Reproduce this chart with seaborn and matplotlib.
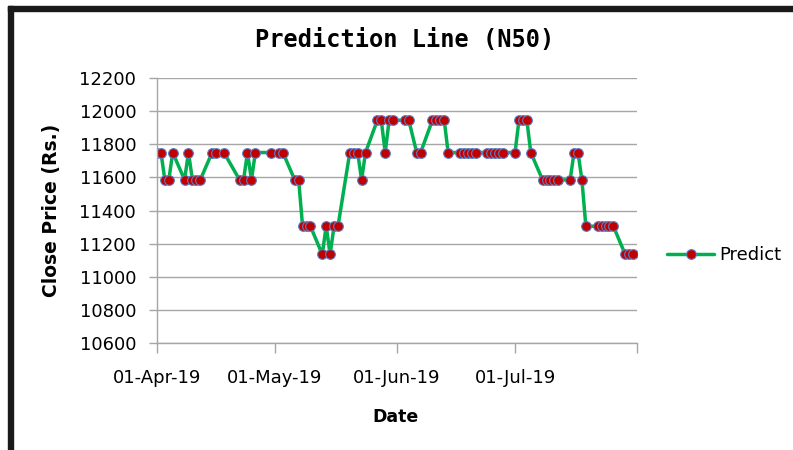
import matplotlib
matplotlib.use("Agg")
import matplotlib.pyplot as plt
from matplotlib.patches import Rectangle
from matplotlib.lines import Line2D
import seaborn as sns
import pandas as pd

dates = [
    "2019-04-01", "2019-04-02", "2019-04-03", "2019-04-04", "2019-04-05",
    "2019-04-08", "2019-04-09", "2019-04-10", "2019-04-11", "2019-04-12",
    "2019-04-15", "2019-04-16", "2019-04-18", "2019-04-22", "2019-04-23",
    "2019-04-24", "2019-04-25", "2019-04-26", "2019-04-30",
    "2019-05-02", "2019-05-03", "2019-05-06", "2019-05-07", "2019-05-08",
    "2019-05-09", "2019-05-10", "2019-05-13", "2019-05-14", "2019-05-15",
    "2019-05-16", "2019-05-17", "2019-05-20", "2019-05-21", "2019-05-22",
    "2019-05-23", "2019-05-24", "2019-05-27", "2019-05-28", "2019-05-29",
    "2019-05-30", "2019-05-31",
    "2019-06-03", "2019-06-04", "2019-06-06", "2019-06-07", "2019-06-10",
    "2019-06-11", "2019-06-12", "2019-06-13", "2019-06-14", "2019-06-17",
    "2019-06-18", "2019-06-19", "2019-06-20", "2019-06-21", "2019-06-24",
    "2019-06-25", "2019-06-26", "2019-06-27", "2019-06-28",
    "2019-07-01", "2019-07-02", "2019-07-03", "2019-07-04", "2019-07-05",
    "2019-07-08", "2019-07-09", "2019-07-10", "2019-07-11", "2019-07-12",
    "2019-07-15", "2019-07-16", "2019-07-17", "2019-07-18", "2019-07-19",
    "2019-07-22", "2019-07-23", "2019-07-24", "2019-07-25", "2019-07-26",
    "2019-07-29", "2019-07-30", "2019-07-31",
]

predict = [
    11750, 11750, 11585, 11585, 11750,
    11585, 11750, 11585, 11585, 11585,
    11750, 11750, 11750, 11585, 11585,
    11750, 11585, 11750, 11750,
    11750, 11750, 11585, 11585, 11305,
    11305, 11305, 11135, 11305, 11135,
    11305, 11305, 11750, 11750, 11750,
    11585, 11750, 11945, 11945, 11750,
    11945, 11945,
    11945, 11945, 11750, 11750, 11945,
    11945, 11945, 11945, 11750, 11750,
    11750, 11750, 11750, 11750, 11750,
    11750, 11750, 11750, 11750,
    11750, 11945, 11945, 11945, 11750,
    11585, 11585, 11585, 11585, 11585,
    11585, 11750, 11750, 11585, 11305,
    11305, 11305, 11305, 11305, 11305,
    11135, 11135, 11135,
]

tick_dates = ["2019-04-01", "2019-05-01", "2019-06-01", "2019-07-01", "2019-08-01"]
tick_labels = ["01-Apr-19", "01-May-19", "01-Jun-19", "01-Jul-19", ""]
y_ticks = [10600, 10800, 11000, 11200, 11400, 11600, 11800, 12000, 12200]

df = pd.DataFrame({"Date": pd.to_datetime(dates), "Predict": predict})

sns.set_theme(style="white")
plt.rcParams["font.family"] = ["DejaVu Sans"]
plt.rcParams["text.color"] = "black"
plt.rcParams["axes.labelcolor"] = "black"

LINE = "#00B050"
FACE = "#C00000"
EDGE = "#5B7FC7"
GRID = "#A6A6A6"

fig = plt.figure(figsize=(7.93, 4.5), dpi=100)
fig.patch.set_facecolor("white")
ax = fig.add_axes([157 / 793, 1 - 343 / 450, 480 / 793, 265 / 450])

sns.lineplot(data=df, x="Date", y="Predict", ax=ax, color=LINE, linewidth=2.5,
             marker="o", markersize=7, markerfacecolor=FACE,
             markeredgecolor=EDGE, markeredgewidth=0.8, legend=False)

ax.set_xlim(pd.Timestamp("2019-04-01"), pd.Timestamp("2019-08-01"))
ax.set_ylim(10600, 12200)
ax.set_yticks(y_ticks)
ax.set_yticklabels([str(v) for v in y_ticks])
ax.set_xticks(pd.to_datetime(tick_dates))
ax.set_xticklabels(tick_labels)

ax.grid(axis="y", color=GRID, linewidth=1.0)
ax.grid(axis="x", visible=False)
ax.set_axisbelow(True)
for s in ["top", "right"]:
    ax.spines[s].set_visible(False)
for s in ["left", "bottom"]:
    ax.spines[s].set_color(GRID)
    ax.spines[s].set_linewidth(1.0)

ax.tick_params(axis="x", direction="out", length=7, width=1, color=GRID,
               pad=12, labelsize=13, labelcolor="black")
ax.tick_params(axis="y", direction="out", length=6, width=1, color=GRID,
               pad=9, labelsize=13, labelcolor="black")
ax.tick_params(left=True, bottom=True)

ax.set_xlabel("Date", fontsize=12.5, fontweight="bold", color="black")
ax.set_ylabel("Close Price (Rs.)", fontsize=13.5, fontweight="bold", color="black")
ax.xaxis.set_label_coords((396 - 157) / 480, -(408 - 343) / 265)
ax.yaxis.set_label_coords(-(157 - 61) / 480, 0.5)

fig.text(405 / 793, 1 - 40 / 450, "Prediction Line (N50)", ha="center", va="center",
         fontsize=17, fontweight="bold", family=["DejaVu Sans Mono"], color="black")

handle = Line2D([], [], color=LINE, linewidth=2.5, marker="o", markersize=7,
                markerfacecolor=FACE, markeredgecolor=EDGE, markeredgewidth=0.8)
leg = fig.legend([handle], ["Predict"], loc="center left",
                 bbox_to_anchor=(658 / 793, 1 - 255 / 450), frameon=False,
                 fontsize=13, handlelength=2.6, handletextpad=0.3, borderpad=0)
for t in leg.get_texts():
    t.set_color("black")

# frame border (top and left)
fig.patches.append(Rectangle((8 / 793, 0), 5 / 793, 1 - 6 / 450,
                             transform=fig.transFigure, color="#1a1a1a", zorder=10))
fig.patches.append(Rectangle((8 / 793, 1 - 11 / 450), 1, 5 / 450,
                             transform=fig.transFigure, color="#1a1a1a", zorder=10))

fig.savefig("out.png", dpi=100)
